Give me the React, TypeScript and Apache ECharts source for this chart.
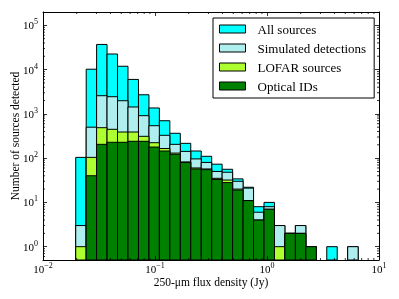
import React, { useEffect, useRef } from 'react';
import * as echarts from 'echarts';

// Bin edges (Jy)
const binEdges = [0.0196, 0.0243, 0.0301, 0.0373, 0.0463, 0.0574, 0.0712, 0.0883, 0.1094, 0.1357,
  0.1683, 0.2086, 0.2587, 0.3208, 0.3977, 0.4932, 0.6115, 0.7582, 0.9402, 1.1657,
  1.4454, 1.7922, 2.2223, 2.7555, 3.4167, 4.2364, 5.253, 6.5134];

const seriesNames = ['All sources', 'Simulated detections', 'LOFAR sources', 'Optical IDs'];
const seriesColors = ['#00ffff', '#afeeee', '#adff2f', '#008000'];

const allSources = [104, 10200, 37000, 22500, 11900, 6000, 2700, 1360, 700, 364, 216, 145, 110, 73, 56, 34, 22, 8, 10, 3, 2, 3, 1, 0, 1, 0, 1];
const simulated = [3, 500, 2570, 2440, 1980, 1430, 910, 540, 328, 205, 142, 96, 80, 50, 48, 30, 21, 6, 8, 3, 2, 3, 1, 0, 0, 0, 1];
const lofar = [1, 104, 487, 448, 389, 389, 311, 223, 165, 130, 82, 60, 57, 35, 32, 20, 11, 4, 7, 1, 2, 2, 1, 0, 0, 0, 0];
const optical = [0, 40, 205, 228, 228, 240, 240, 178, 145, 122, 80, 57, 55, 33, 28, 19, 11, 4, 7, 0, 2, 2, 1, 0, 0, 0, 0];

const xTickExponents = [-2, -1, 0, 1];
const yTickExponents = [0, 1, 2, 3, 4, 5];
const xMin = 0.01, xMax = 10;
const yMin = 0.5, yMax = 2e5;

const FONT = '"Liberation Serif", "DejaVu Serif", serif';

function supLabel(allowed: number[]) {
  return (v: number) => {
    const e = Math.log10(v);
    const r = Math.round(e);
    if (Math.abs(e - r) > 1e-6 || allowed.indexOf(r) < 0) return '';
    const s = r < 0 ? '\u2212' + String(-r) : String(r);
    return `{b|10}{s|${s}}`;
  };
}

const richLabel = {
  b: { fontFamily: FONT, fontSize: 11, lineHeight: 13, verticalAlign: 'bottom', color: '#000' },
  s: { fontFamily: FONT, fontSize: 8, lineHeight: 8, verticalAlign: 'top', color: '#000' },
};

export default function App() {
  const ref = useRef<HTMLDivElement>(null);
  useEffect(() => {
    const chart = echarts.init(ref.current!, undefined, { renderer: 'svg' });

    const counts = [allSources, simulated, lofar, optical];
    const barSeries = counts.map((arr, si) => ({
      name: seriesNames[si],
      type: 'custom',
      xAxisIndex: 0,
      yAxisIndex: 0,
      z: 2 + si * 0.01,
      itemStyle: { color: seriesColors[si], borderColor: '#000', borderWidth: 1 },
      encode: { x: [0, 1], y: 2 },
      data: arr.map((c, i) => [binEdges[i], binEdges[i + 1], c]),
      renderItem: (params: any, api: any) => {
        const c = api.value(2);
        if (!(c > 0)) return null;
        const p0 = api.coord([api.value(0), c]);
        const p1 = api.coord([api.value(1), yMin]);
        return {
          type: 'rect',
          shape: { x: p0[0], y: p0[1], width: p1[0] - p0[0], height: p1[1] - p0[1] },
          style: { fill: seriesColors[si], stroke: '#000', lineWidth: 1 },
        };
      },
    }));

    // minor tick positions (2..9 x each decade)
    const minorData: number[][] = [];
    for (let d = -2; d <= 0; d++) {
      for (let m = 2; m <= 9; m++) {
        const v = m * Math.pow(10, d);
        minorData.push([v, 1, 0]);
        minorData.push([v, 1, 1]);
      }
    }
    for (let d = -1; d <= 5; d++) {
      for (let m = 2; m <= 9; m++) {
        const v = m * Math.pow(10, d);
        if (v <= yMin || v >= yMax) continue;
        minorData.push([1, v, 2]);
        minorData.push([1, v, 3]);
      }
    }

    const tickSeries = {
      type: 'custom',
      name: 'minorTicks',
      xAxisIndex: 0,
      yAxisIndex: 0,
      z: 10,
      silent: true,
      encode: { x: 0, y: 1 },
      data: minorData,
      renderItem: (params: any, api: any) => {
        const side = api.value(2);
        const cs = params.coordSys;
        const L = 2;
        let shape;
        if (side === 0 || side === 1) {
          const p = api.coord([api.value(0), 1]);
          const yb = side === 0 ? cs.y + cs.height : cs.y;
          const dir = side === 0 ? -1 : 1;
          shape = { x1: p[0], y1: yb, x2: p[0], y2: yb + dir * L };
        } else {
          const p = api.coord([1, api.value(1)]);
          const xb = side === 2 ? cs.x : cs.x + cs.width;
          const dir = side === 2 ? 1 : -1;
          shape = { x1: xb, y1: p[1], x2: xb + dir * L, y2: p[1] };
        }
        return { type: 'line', shape, style: { stroke: '#000', lineWidth: 0.8 } };
      },
    };

    const axisCommon = {
      axisLine: { show: true, lineStyle: { color: '#000', width: 1 } },
      axisTick: { show: true, inside: true, length: 4, lineStyle: { color: '#000', width: 0.8 } },
      splitLine: { show: false },
      z: 10,
    };

    const option: any = {
      animation: false,
      grid: { left: 43, right: 20, top: 12, bottom: 39, containLabel: false, outerBoundsMode: 'none' },
      legend: {
        orient: 'vertical',
        left: 213,
        top: 18,
        itemWidth: 26,
        itemHeight: 8,
        itemGap: 5,
        backgroundColor: '#fff',
        borderColor: '#000',
        borderWidth: 1,
        borderRadius: 0,
        padding: [4, 8, 5, 6],
        selectedMode: false,
        textStyle: { fontFamily: FONT, fontSize: 13, color: '#000', lineHeight: 14, padding: [0, 0, 0, 7] },
        data: seriesNames.map((n, i) => ({
          name: n,
          icon: 'rect',
          itemStyle: { color: seriesColors[i], borderColor: '#000', borderWidth: 1 },
        })),
      },
      xAxis: [
        {
          ...axisCommon,
          type: 'log', logBase: 10, min: xMin, max: xMax, position: 'bottom',
          name: '250-\u03bcm flux density (Jy)',
          nameLocation: 'middle',
          nameGap: 16,
          nameMoveOverlap: false,
          nameTextStyle: { fontFamily: FONT, fontSize: 11.5, color: '#000', lineHeight: 12 },
          axisLabel: { show: true, margin: 1, formatter: supLabel(xTickExponents), rich: richLabel, showMinLabel: true, showMaxLabel: true },
        },
        {
          ...axisCommon,
          type: 'log', logBase: 10, min: xMin, max: xMax, position: 'top',
          axisLabel: { show: false },
        },
      ],
      yAxis: [
        {
          ...axisCommon,
          type: 'log', logBase: 10, min: yMin, max: yMax, position: 'left',
          name: 'Number of sources detected',
          nameLocation: 'middle',
          nameGap: 22,
          nameMoveOverlap: false,
          nameTextStyle: { fontFamily: FONT, fontSize: 11.5, color: '#000', lineHeight: 12 },
          axisLabel: { show: true, margin: 5, padding: [0, 0, 2, 0], formatter: supLabel(yTickExponents), rich: richLabel },
        },
        {
          ...axisCommon,
          type: 'log', logBase: 10, min: yMin, max: yMax, position: 'right',
          axisLabel: { show: false },
        },
      ],
      series: [...barSeries, tickSeries],
    };

    chart.setOption(option);
    return () => chart.dispose();
  }, []);
  return <div ref={ref} style={{ position: 'fixed', left: 0, top: 0, width: 399, height: 299 }} />;
}
